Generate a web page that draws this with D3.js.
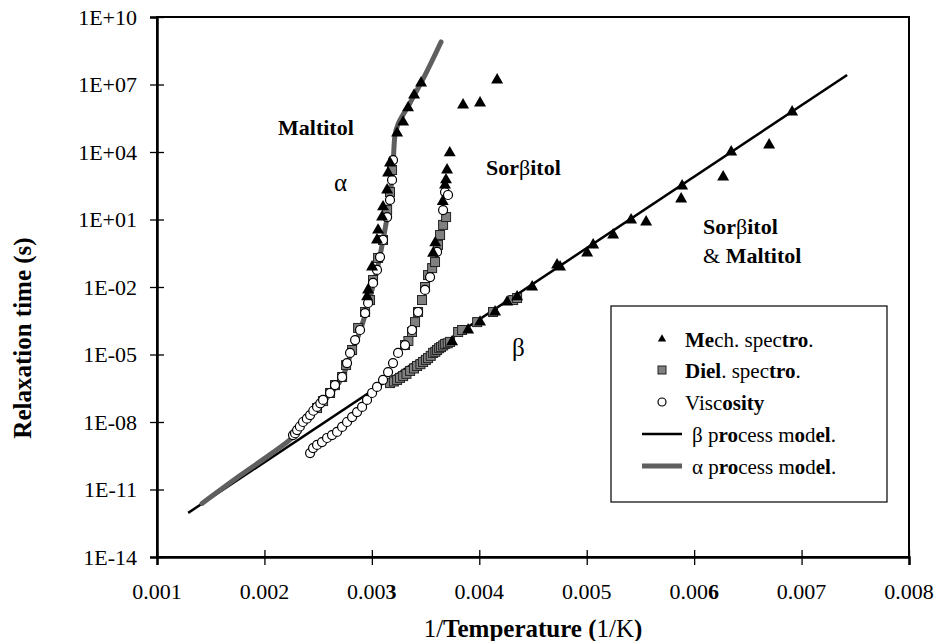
<!DOCTYPE html>
<html>
<head>
<meta charset="utf-8">
<script src="https://cdn.jsdelivr.net/npm/d3@7"></script>
<style>
  body { margin: 0; background: #fff; }
</style>
</head>
<body>
<div id="chart"></div>
<script>
'use strict';

// values: x = 1/T (1/K), y = log10 of relaxation time (s)
var mechX = [0.002955, 0.002965, 0.003002, 0.003048, 0.003058, 0.003095, 0.003104, 0.003142, 0.003151, 0.003169,
  0.003235, 0.003291, 0.003337, 0.003393, 0.003458,
  0.003849, 0.004007, 0.004166,
  0.003570, 0.003590, 0.003660, 0.003681, 0.003690, 0.003700, 0.003725,
  0.003747, 0.003896, 0.004007, 0.004147, 0.004259, 0.004352, 0.004492, 0.004724, 0.004752,
  0.005004, 0.005060, 0.005246, 0.005413, 0.005553, 0.005879, 0.005888, 0.006270, 0.006345, 0.006698, 0.006912];
var mechLog = [-2.44, -2.13, -1.11, 0.09, 0.53, 1.11, 1.56, 2.31, 3.07, 3.51,
  4.84, 5.33, 5.96, 6.53, 7.07,
  6.09, 6.18, 7.2,
  -0.5, -0.04, 1.8, 2.53, 2.76, 3.2, 3.96,
  -4.44, -3.91, -3.56, -3.11, -2.67, -2.44, -2.0, -1.02, -1.11,
  -0.49, -0.13, 0.31, 0.98, 0.89, 1.91, 2.49, 2.89, 4.0, 4.31, 5.78];

var dielX = [0.002490, 0.002546, 0.002611, 0.002657, 0.002723, 0.002760, 0.002816, 0.002872, 0.002937, 0.002983,
  0.003011, 0.003058, 0.003104, 0.003142, 0.003169, 0.003188,
  0.003309, 0.003340, 0.003374, 0.003402, 0.003430, 0.003467, 0.003495, 0.003523, 0.003561, 0.003588,
  0.003616, 0.003635, 0.003663, 0.003691,
  0.003169, 0.003205, 0.003235, 0.003262, 0.003291, 0.003322, 0.003356, 0.003392, 0.003421, 0.003452,
  0.003477, 0.003503, 0.003523, 0.003548, 0.003570, 0.003591, 0.003607, 0.003626, 0.003644, 0.003664,
  0.003682, 0.003706, 0.003728, 0.003803, 0.003840, 0.003980, 0.004128, 0.004315, 0.004352];
var dielLog = [-7.38, -7.07, -6.71, -6.36, -6.0, -5.47, -4.8, -3.82, -3.11, -2.58,
  -1.69, -0.71, 0.09, 1.42, 2.22, 3.2,
  -4.58, -4.4, -4.0, -3.56, -3.11, -2.58, -2.0, -1.47, -1.16, -0.89,
  -0.13, 0.31, 0.76, 1.11,
  -6.27, -6.2, -6.13, -6.04, -5.96, -5.86, -5.73, -5.62, -5.51, -5.43,
  -5.33, -5.24, -5.16, -5.06, -4.93, -4.88, -4.8, -4.72, -4.67, -4.6,
  -4.53, -4.5, -4.44, -4.0, -3.91, -3.56, -3.11, -2.58, -2.49];

var viscX = [0.002266, 0.002285, 0.002304, 0.002330, 0.002359, 0.002395, 0.002425, 0.002455, 0.002490, 0.002520,
  0.002546, 0.002611, 0.002657, 0.002723, 0.002769, 0.002797, 0.002844, 0.002890, 0.002937, 0.002965,
  0.003011, 0.003048, 0.003076, 0.003104, 0.003142, 0.003169, 0.003188, 0.003197,
  0.002425, 0.002453, 0.002490, 0.002536, 0.002583, 0.002629, 0.002676, 0.002723, 0.002769, 0.002816,
  0.002862, 0.002909, 0.002955, 0.003002, 0.003048, 0.003104, 0.003151, 0.003197, 0.003244, 0.003309,
  0.003374, 0.003430, 0.003495, 0.003542, 0.003607, 0.003663, 0.003681, 0.003709];
var viscLog = [-8.58, -8.5, -8.36, -8.2, -8.0, -7.85, -7.69, -7.5, -7.33, -7.17,
  -7.02, -6.71, -6.36, -6.0, -5.38, -4.93, -4.36, -3.91, -3.16, -2.71,
  -1.82, -1.24, -0.67, 0.09, 1.11, 1.87, 2.76, 3.64,
  -9.38, -9.16, -9.02, -8.89, -8.71, -8.58, -8.44, -8.22, -8.0, -7.78,
  -7.56, -7.33, -7.02, -6.71, -6.44, -6.13, -5.78, -5.38, -4.93, -4.58,
  -3.91, -3.11, -2.13, -1.56, -0.44, 1.42, 2.22, 2.09];

var betaX = [0.00129, 0.007424];
var betaLog = [-12.04, 7.42];

var alphaX = [0.001419, 0.001773, 0.002052, 0.002266, 0.002359, 0.002490, 0.002611, 0.002723, 0.002797, 0.002890,
  0.002965, 0.003048, 0.003104, 0.003160, 0.003197, 0.003216, 0.003244, 0.003355, 0.003495, 0.003644];
var alphaLog = [-11.62, -10.38, -9.45, -8.67, -8.09, -7.42, -6.76, -6.04, -5.07, -3.96,
  -2.76, -1.24, 0.09, 1.64, 3.42, 4.76, 5.24, 6.18, 7.42, 8.89];

var xTicks = [0.001, 0.002, 0.003, 0.004, 0.005, 0.006, 0.007, 0.008];
var yTicks = [1e10, 1e7, 1e4, 1e1, 1e-2, 1e-5, 1e-8, 1e-11, 1e-14];
var yTickLabels = ["1E+10", "1E+07", "1E+04", "1E+01", "1E-02", "1E-05", "1E-08", "1E-11", "1E-14"];

var FONT = "'Liberation Serif', 'Times New Roman', Times, serif";
var width = 937, height = 641;
var margin = {top: 17, right: 28, bottom: 84, left: 157};

var svg = d3.select("#chart").append("svg")
  .attr("width", width)
  .attr("height", height)
  .attr("font-family", FONT)
  .style("font-family", FONT);

var x = d3.scaleLinear().domain([0.001, 0.008]).range([margin.left, width - margin.right]);
var y = d3.scaleLog().domain([1e-14, 1e10]).range([height - margin.bottom, margin.top]);

function pts(xs, ls) {
  return xs.map(function (v, i) { return {x: v, tau: Math.pow(10, ls[i])}; });
}

function addText(sel) {
  return sel.append("text").attr("font-family", FONT).style("font-family", FONT).attr("fill", "#000");
}

// frame
svg.append("rect")
  .attr("x", x(0.001)).attr("y", y(1e10))
  .attr("width", x(0.008) - x(0.001)).attr("height", y(1e-14) - y(1e10))
  .attr("fill", "none").attr("stroke", "#000").attr("stroke-width", 2);

// axes
var xAxis = svg.append("g")
  .attr("transform", "translate(0," + y(1e-14) + ")")
  .call(d3.axisBottom(x).tickValues(xTicks).tickSize(8).tickFormat(""));
xAxis.select(".domain").attr("stroke-width", 2.5);
xAxis.selectAll(".tick line").attr("y1", -7).attr("y2", 8).attr("stroke-width", 1.3);

xTicks.forEach(function (d) {
  var s = d3.format(".3f")(d);
  var t = addText(svg)
    .attr("x", x(d))
    .attr("y", 599)
    .attr("text-anchor", "middle")
    .style("font-size", "22px");
  if (s == "0.003" || s == "0.006") {
    t.append("tspan").text(s.slice(0, 4));
    t.append("tspan").style("font-weight", "bold").text(s.slice(4));
  } else {
    t.text(s);
  }
});

var yAxis = svg.append("g")
  .attr("transform", "translate(" + x(0.001) + ",0)")
  .call(d3.axisLeft(y).tickValues(yTicks).tickSize(7)
    .tickFormat(function (d, i) { return yTickLabels[i]; }));
yAxis.attr("font-family", FONT);
yAxis.select(".domain").attr("stroke-width", 2.5);
yAxis.selectAll(".tick line").attr("x1", -7).attr("x2", 7).attr("stroke-width", 1.3);
yAxis.selectAll(".tick text")
  .attr("x", -20)
  .style("font-family", FONT)
  .style("font-size", "22px");

// axis titles
var xt = addText(svg)
  .attr("x", (x(0.001) + x(0.008)) / 2)
  .attr("y", 637)
  .attr("text-anchor", "middle")
  .style("font-size", "25px");
xt.append("tspan").text("1/");
xt.append("tspan").style("font-weight", "bold").text("Temperature (");
xt.append("tspan").text("1/K");
xt.append("tspan").style("font-weight", "bold").text(")");

addText(svg)
  .attr("transform", "translate(31,338) rotate(-90)")
  .attr("text-anchor", "middle")
  .style("font-size", "25px")
  .style("font-weight", "bold")
  .text("Relaxation time (s)");

// model lines
var line = d3.line()
  .x(function (d) { return x(d.x); })
  .y(function (d) { return y(d.tau); });

svg.append("path")
  .datum(pts(betaX, betaLog))
  .attr("d", line)
  .attr("fill", "none")
  .attr("stroke", "#000")
  .attr("stroke-width", 2.5);

svg.append("path")
  .datum(pts(alphaX, alphaLog))
  .attr("d", line.curve(d3.curveCatmullRom))
  .attr("fill", "none")
  .attr("stroke", "#5f5f5f")
  .attr("stroke-width", 5)
  .attr("stroke-linecap", "round")
  .attr("stroke-linejoin", "round");

// markers
var triangle = d3.symbol().type(d3.symbolTriangle).size(62);

svg.append("g").selectAll("rect")
  .data(pts(dielX, dielLog)).enter().append("rect")
  .attr("x", function (d) { return x(d.x) - 4.5; })
  .attr("y", function (d) { return y(d.tau) - 4.5; })
  .attr("width", 9).attr("height", 9)
  .attr("fill", "#808080").attr("stroke", "#222").attr("stroke-width", 1);

svg.append("g").selectAll("circle")
  .data(pts(viscX, viscLog)).enter().append("circle")
  .attr("cx", function (d) { return x(d.x); })
  .attr("cy", function (d) { return y(d.tau); })
  .attr("r", 4.5)
  .attr("fill", "#fff").attr("stroke", "#000").attr("stroke-width", 1.2);

svg.append("g").selectAll("path")
  .data(pts(mechX, mechLog)).enter().append("path")
  .attr("d", triangle)
  .attr("transform", function (d) { return "translate(" + x(d.x) + "," + y(d.tau) + ")"; })
  .attr("fill", "#000");

// annotations
function label(px, py, parts, size) {
  var t = addText(svg).attr("x", px).attr("y", py).style("font-size", (size || 21) + "px");
  parts.forEach(function (p) {
    t.append("tspan").style("font-weight", p[1] ? "bold" : "normal").text(p[0]);
  });
  return t;
}
label(278, 135, [["Maltitol", 1]], 22);
label(334, 191, [["\u03b1", 0]], 25);
label(486, 175, [["Sor", 1], ["\u03b2", 0], ["itol", 1]], 22);
label(703, 234, [["Sor", 1], ["\u03b2", 0], ["itol", 1]], 22);
label(703, 263, [["& ", 0], ["Maltitol", 1]], 22);
label(512, 356, [["\u03b2", 0]], 25);

// legend
var legend = svg.append("g");
legend.append("rect")
  .attr("x", 611).attr("y", 306).attr("width", 276).attr("height", 196)
  .attr("fill", "#fff").attr("stroke", "#000").attr("stroke-width", 1.2);

var legendRows = [
  {kind: "tri", y: 340, parts: [["Me", 1], ["ch. spec", 0], ["tro", 1], [".", 0]]},
  {kind: "sq", y: 371, parts: [["Diel", 1], [". spec", 0], ["tro", 1], [".", 0]]},
  {kind: "circ", y: 403, parts: [["Visc", 0], ["osity", 1]]},
  {kind: "beta", y: 435, parts: [["\u03b2 p", 0], ["ro", 1], ["cess m", 0], ["o", 1], ["d", 0], ["el", 1], [".", 0]]},
  {kind: "alpha", y: 467, parts: [["\u03b1 p", 0], ["ro", 1], ["cess m", 0], ["o", 1], ["d", 0], ["el", 1], [".", 0]]}
];

legendRows.forEach(function (r) {
  if (r.kind == "tri") {
    legend.append("path").attr("d", d3.symbol().type(d3.symbolTriangle).size(30))
      .attr("transform", "translate(662," + (r.y - 1) + ")").attr("fill", "#000");
  } else if (r.kind == "sq") {
    legend.append("rect").attr("x", 658).attr("y", r.y - 5).attr("width", 8).attr("height", 8)
      .attr("fill", "#808080").attr("stroke", "#222");
  } else if (r.kind == "circ") {
    legend.append("circle").attr("cx", 662).attr("cy", r.y - 1).attr("r", 4)
      .attr("fill", "#fff").attr("stroke", "#000").attr("stroke-width", 1.2);
  } else {
    legend.append("line").attr("x1", 642).attr("x2", 682).attr("y1", r.y - 1).attr("y2", r.y - 1)
      .attr("stroke", r.kind == "beta" ? "#000" : "#5f5f5f")
      .attr("stroke-width", r.kind == "beta" ? 2.5 : 5);
  }
  var t = addText(legend)
    .attr("x", r.kind == "beta" || r.kind == "alpha" ? 692 : 685)
    .attr("y", r.y + 7)
    .style("font-size", "21px");
  r.parts.forEach(function (p) {
    t.append("tspan").style("font-weight", p[1] ? "bold" : "normal").text(p[0]);
  });
});
</script>
</body>
</html>
